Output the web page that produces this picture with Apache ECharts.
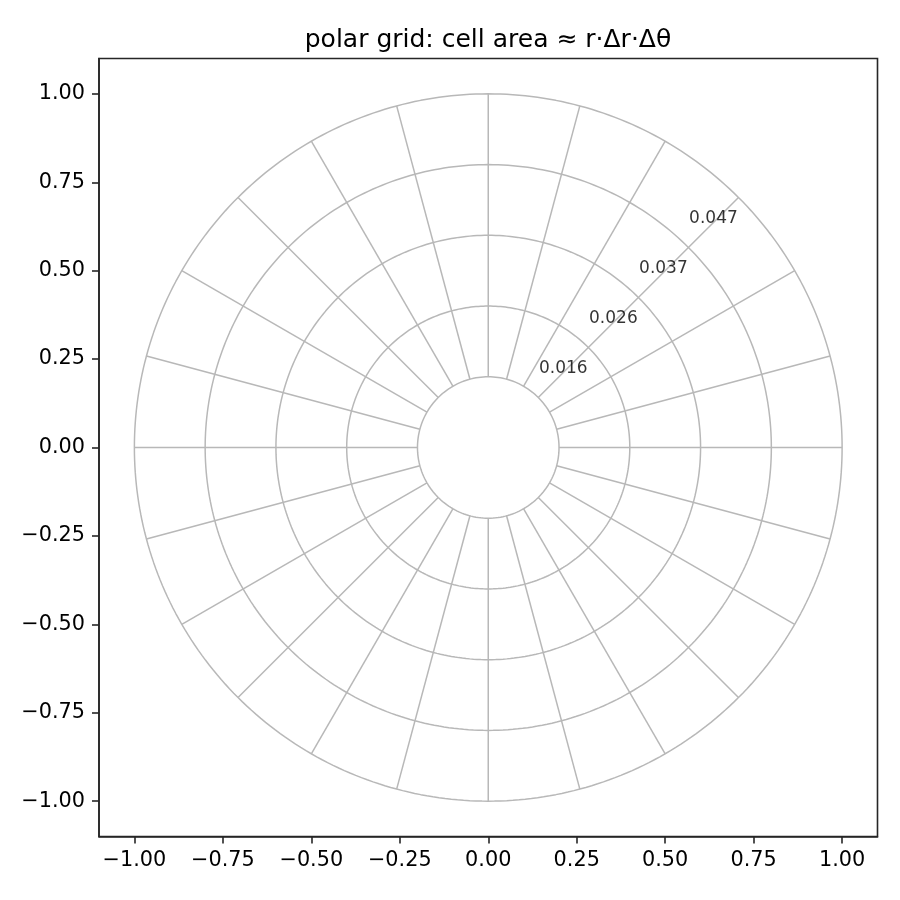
<!DOCTYPE html>
<html>
<head>
<meta charset="utf-8">
<script src="https://cdn.jsdelivr.net/npm/echarts@6/dist/echarts.min.js"></script>
<style>
  html, body { margin: 0; padding: 0; background: #fff; }
  #main { width: 900px; height: 900px; }
</style>
</head>
<body>
<div id="main"></div>
<script>
// polar grid drawn on a cartesian plane
var ringRadii = [0.2, 0.4, 0.6, 0.8, 1.0];	// rings
var spokeCount = 24;						// spokes, every 15 deg
var innerR = 0.2, outerR = 1.0;				// spoke extent
var labelRadii = [0.3, 0.5, 0.7, 0.9];		// cell centres along 45 deg
var areaLabels = ['0.016', '0.026', '0.037', '0.047'];
var labelAngle = 45;
var tickValues = [-1.0, -0.75, -0.5, -0.25, 0.0, 0.25, 0.5, 0.75, 1.0];

var FONT = 'DejaVu Sans';
var GRID_COLOR = '#b8b8b8';

function fmt(v){ return v.toFixed(2).replace('-', '\u2212'); }
function rad(d){ return d * Math.PI / 180; }

var series = [];

// rings
ringRadii.forEach(function(r, i){
	var pts = [];
	for (var a = 0; a <= 360; a += 1) pts.push([r * Math.cos(rad(a)), r * Math.sin(rad(a))]);
	series.push({ name: 'ring' + i, type: 'line', data: pts, symbol: 'none', silent: true,
		lineStyle: { color: GRID_COLOR, width: 1.5 }, z: 2, animation: false });
});

// spokes
for (var k = 0; k < spokeCount; k++){
	var a = rad(k * 360 / spokeCount);
	series.push({ name: 'spoke' + k, type: 'line', symbol: 'none', silent: true,
		data: [[innerR * Math.cos(a), innerR * Math.sin(a)], [outerR * Math.cos(a), outerR * Math.sin(a)]],
		lineStyle: { color: GRID_COLOR, width: 1.5 }, z: 2, animation: false });
}

// area labels
series.push({
	name: 'labels', type: 'scatter', symbolSize: 0, silent: true, animation: false, z: 5,
	data: labelRadii.map(function(r, i){
		return [r * Math.cos(rad(labelAngle)), r * Math.sin(rad(labelAngle)), areaLabels[i]];
	}),
	label: { show: true, position: 'inside', formatter: function(p){ return p.value[2]; },
		color: '#000', fontFamily: FONT, fontSize: 17, offset: [0, -4] }
});

function axis(){
	return {
		type: 'value', min: -1.1, max: 1.1,
		axisLine: { show: true, onZero: false, lineStyle: { color: '#262626', width: 1.6 } },
		axisTick: { show: true, length: 7, customValues: tickValues, lineStyle: { color: '#262626', width: 1.6 } },
		axisLabel: { show: true, customValues: tickValues, margin: 14, formatter: fmt,
			color: '#000', fontFamily: FONT, fontSize: 20.8 },
		splitLine: { show: false }
	};
}

var chart = echarts.init(document.getElementById('main'), null, { renderer: 'canvas' });
chart.setOption({
	backgroundColor: '#fff',
	animation: false,
	title: { text: 'polar grid: cell area \u2248 r\u00b7\u0394r\u00b7\u0394\u03b8', left: 488, top: 28, textAlign: 'center',
		padding: 0, textStyle: { fontFamily: FONT, fontSize: 25, fontWeight: 'normal', color: '#000' } },
	grid: { left: 99, right: 22.5, top: 58.5, bottom: 63.5, show: true, borderColor: '#262626', borderWidth: 1.6,
		backgroundColor: 'transparent', containLabel: false },
	xAxis: axis(),
	yAxis: axis(),
	series: series
});
</script>
</body>
</html>
